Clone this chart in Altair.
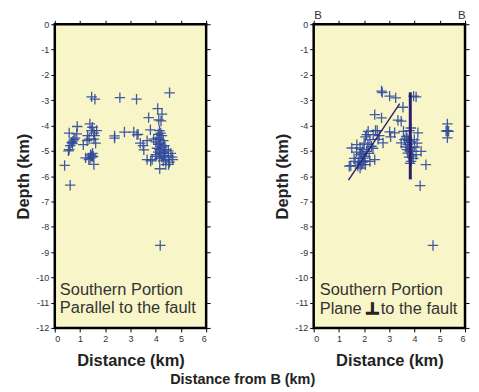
import altair as alt
import pandas as pd

# Left panel: Southern portion, parallel to the fault
left_dist = [0.39, 0.61, 0.54, 0.57, 0.61, 0.67, 0.72, 0.76, 0.57, 0.87, 0.89, 0.80, 0.70,
             1.13, 1.28, 1.36, 1.39, 1.49, 1.55, 1.66, 1.62, 1.55, 1.58, 1.45, 1.42, 1.45, 1.48,
             1.40, 1.52, 1.50, 1.22, 1.35, 1.55, 1.46, 1.59, 1.30,
             2.37, 2.37, 2.58, 3.24, 2.76, 3.13, 3.26, 3.39, 3.53, 3.66, 3.79, 3.72, 3.92, 3.50, 3.30,
             4.55, 4.08, 4.25, 4.12, 4.21, 4.15, 4.20, 4.10, 4.25, 4.05, 4.15, 4.30, 4.00, 4.20,
             4.10, 4.35, 4.25, 4.05, 4.15, 4.40, 4.50, 4.30, 4.10, 4.20, 4.60, 4.00, 4.35, 4.50,
             4.25, 4.65, 4.15, 4.40, 3.66, 3.86, 4.01, 4.68, 4.30, 4.55, 4.51, 4.16, 4.40, 3.80, 4.18]
left_depth = [-5.58, -6.36, -5.00, -4.95, -4.80, -4.67, -4.62, -4.56, -4.30, -4.33, -4.04, -4.50, -4.72,
              -4.76, -4.60, -4.54, -3.94, -4.07, -4.30, -4.20, -4.70, -4.54, -4.40, -4.20, -5.15, -5.20, -5.25,
              -5.30, -5.22, -5.10, -5.28, -5.35, -5.54, -2.87, -2.96, -4.40,
              -4.41, -4.50, -2.90, -2.96, -4.26, -4.26, -4.37, -4.70, -4.96, -4.60, -4.17, -3.69, -4.54, -4.80, -4.35,
              -2.71, -3.33, -3.55, -3.78, -3.82, -4.20, -4.30, -4.35, -4.40, -4.50, -4.55, -4.60, -4.65, -4.70,
              -4.75, -4.80, -4.85, -4.90, -4.95, -4.95, -5.00, -5.05, -5.05, -5.10, -5.10, -5.15, -5.20, -5.20,
              -5.25, -5.25, -5.30, -5.35, -5.35, -5.35, -5.22, -5.35, -5.40, -5.45, -5.54, -5.71, -5.55, -5.40, -8.74]

# Right panel: Southern portion, plane perpendicular to the fault
right_dist = [1.41, 1.47, 1.64, 1.51, 1.71, 1.84, 1.90, 1.97, 1.77, 1.84, 2.03, 2.10, 2.10, 2.23, 2.29,
              2.23, 2.42, 2.16, 1.80, 1.95, 1.90, 1.75, 2.00, 2.05, 1.85, 1.95, 2.00, 2.15, 2.20, 1.70,
              1.60, 2.05, 2.36, 2.52, 2.42, 2.69, 2.75, 2.60, 2.55, 2.35, 2.45,
              2.69, 2.72, 3.01, 3.25, 3.96, 4.06, 3.54, 3.34, 3.47, 3.01, 3.21, 3.56, 3.05,
              3.47, 3.60, 3.67, 3.73, 3.86, 3.93, 3.99, 4.06, 4.26, 3.73, 3.86, 4.45, 4.22, 3.80,
              3.75, 3.85, 3.70, 3.80, 3.90, 3.78, 3.95, 3.82, 3.70, 4.13, 4.10, 3.65, 3.85, 4.00,
              5.30, 5.30, 5.25, 5.35, 5.30, 4.73]
right_depth = [-5.61, -5.59, -5.42, -4.89, -4.76, -4.89, -5.09, -5.29, -5.48, -5.68, -5.22, -5.02, -4.36, -4.56, -4.82,
               -5.42, -5.35, -4.23, -5.30, -5.45, -5.55, -5.60, -5.40, -5.55, -5.15, -4.95, -4.70, -4.75, -5.10, -5.05,
               -5.30, -4.45, -4.36, -4.20, -3.57, -3.70, -4.69, -4.40, -4.55, -4.90, -4.20,
               -2.64, -2.70, -2.84, -2.91, -2.84, -2.87, -3.28, -3.79, -3.83, -4.25, -4.29, -4.23, -4.45,
               -4.69, -4.56, -4.43, -4.76, -4.89, -5.02, -4.56, -5.15, -5.02, -5.09, -5.42, -5.55, -6.38, -4.20,
               -4.60, -4.65, -4.95, -5.00, -5.20, -5.25, -5.30, -5.50, -4.50, -4.29, -4.70, -4.85, -4.10, -4.85,
               -3.94, -4.20, -4.22, -4.23, -4.49, -8.74]

# Interpreted fault traces in the right panel
dip_line_dist = [1.38, 3.41]
dip_line_depth = [-6.16, -3.14]
vert_line_dist = [3.83, 3.83]
vert_line_depth = [-2.69, -6.13]

# Panel annotations
left_text = ["Southern Portion", "Parallel to the fault"]
left_text_dist = [0.2, 0.2]
left_text_depth = [-10.5, -11.22]
right_text = ["Southern Portion", "Plane", "to the fault"]
right_text_dist = [0.24, 0.24, 2.66]
right_text_depth = [-10.52, -11.26, -11.26]
perp_symbol = ["\u22a5"]
perp_dist = [2.33]
perp_depth = [-11.26]

x_ticks = [0, 1, 2, 3, 4, 5, 6]
y_ticks = [0, -1, -2, -3, -4, -5, -6, -7, -8, -9, -10, -11, -12]

PLUS = "M-1,0L1,0M0,-1L0,1"
BLUE = "#2f4a9c"
LINE = "#2a1f6e"
FONT = "Liberation Sans"

xs = alt.Scale(domain=[0, 6], nice=False)
ys = alt.Scale(domain=[-12, 0], nice=False)


def axis_common(**kw):
    base = dict(domain=False, grid=False, tickColor="black", tickSize=4, tickWidth=1,
                labelFont=FONT, labelFontSize=9, labelColor="#333",
                labelExpr="'' + datum.value",
                titleFont=FONT, titleFontSize=16.5, titleFontWeight="bold", titleColor="#222")
    base.update(kw)
    return alt.Axis(**base)


def base_layers(dist, depth, txt_lines, txt_d, txt_z, top_labels):
    pts = pd.DataFrame({"d": dist, "z": depth})
    main = alt.Chart(pts).mark_point(shape=PLUS, size=110, filled=False, color=BLUE,
                                     strokeWidth=1.3, opacity=0.9).encode(
        x=alt.X("d:Q", scale=xs, axis=axis_common(values=x_ticks, title="Distance (km)",
                                                 orient="bottom", labelPadding=3, titlePadding=9)),
        y=alt.Y("z:Q", scale=ys, axis=axis_common(values=y_ticks, title="Depth (km)",
                                                 orient="left", labelPadding=2, titlePadding=4)),
    )
    txt = pd.DataFrame({"d": txt_d, "z": txt_z, "t": txt_lines})
    text = alt.Chart(txt).mark_text(align="left", baseline="middle", font=FONT, fontSize=16.5,
                                     color="#333").encode(
        x=alt.X("d:Q", scale=xs, axis=axis_common(values=x_ticks, title=None, orient="top",
                                                 labelExpr=top_labels, labelFontSize=11.5,
                                                 labelPadding=0)),
        y=alt.Y("z:Q", scale=ys, axis=axis_common(values=y_ticks, title=None, orient="right",
                                                 labels=False)),
        text="t:N",
    )
    return [main, text]


left = alt.layer(*base_layers(left_dist, left_depth, left_text, left_text_dist, left_text_depth,
                              "''")).resolve_axis(
    x="independent", y="independent").properties(width=152, height=305)

dip = pd.DataFrame({"d": dip_line_dist, "z": dip_line_depth})
vert = pd.DataFrame({"d": vert_line_dist, "z": vert_line_depth})
perp = pd.DataFrame({"d": perp_dist, "z": perp_depth, "t": perp_symbol})
dip_line = alt.Chart(dip).mark_line(color=LINE, strokeWidth=1.4).encode(
    x=alt.X("d:Q", scale=xs, axis=None), y=alt.Y("z:Q", scale=ys, axis=None))
vert_line = alt.Chart(vert).mark_line(color=LINE, strokeWidth=3).encode(
    x=alt.X("d:Q", scale=xs, axis=None), y=alt.Y("z:Q", scale=ys, axis=None))
perp_text = alt.Chart(perp).mark_text(align="center", baseline="middle", font="DejaVu Sans",
                                      fontSize=16, fontWeight="bold", color="#222",
                                      stroke="#222", strokeWidth=1.3).encode(
    x=alt.X("d:Q", scale=xs, axis=None), y=alt.Y("z:Q", scale=ys, axis=None), text="t:N")

rp = base_layers(right_dist, right_depth, right_text, right_text_dist, right_text_depth,
                 "datum.value == 0 || datum.value == 6 ? 'B' : ''")
right = alt.layer(rp[0], rp[1], dip_line, vert_line, perp_text).resolve_axis(
    x="independent", y="independent").properties(width=152, height=305)

chart = alt.hconcat(left, right, spacing=61).properties(
    padding={"left": 6, "right": 0, "top": -1.5, "bottom": 0},
    title=alt.TitleParams("Distance from B (km)", orient="bottom", anchor="middle",
                          font=FONT, fontSize=14.5, fontWeight="bold", color="#222", offset=3),
).configure_view(stroke="black", strokeWidth=2.5, fill="#f8f5c8")

chart.save("out.html", embed_options={"renderer": "svg", "actions": False})
